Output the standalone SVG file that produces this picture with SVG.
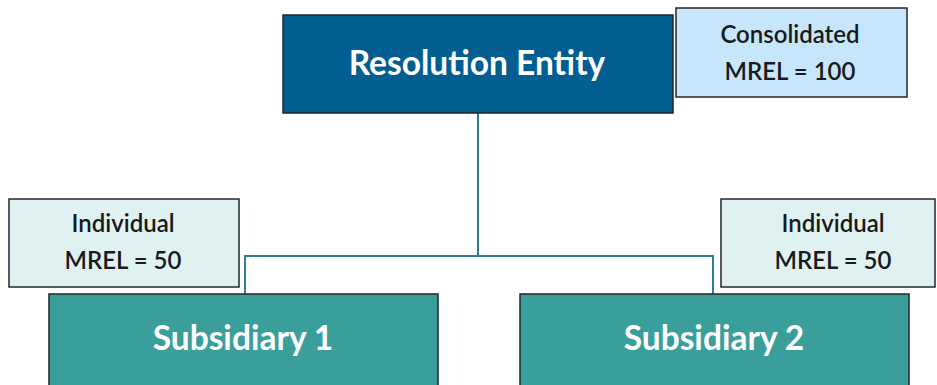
<svg xmlns="http://www.w3.org/2000/svg" width="937" height="385" viewBox="0 0 937 385">
<style>
.box{stroke:#262626;stroke-width:1.5}
.main{fill:#025d91}
.sub{fill:#3a9f9b}
.cons{fill:#c6e7fb}
.ind{fill:#dff2f1}
.big{font-family:Lato,"Liberation Sans",sans-serif;font-weight:bold;font-size:33.5px;fill:#ffffff;text-anchor:middle}
.small{font-family:Lato,"Liberation Sans",sans-serif;font-weight:600;font-size:24px;fill:#1a1a1a;text-anchor:middle}
.conn{fill:none;stroke:#2a7f97;stroke-width:2}
</style>
<rect width="937" height="385" fill="#ffffff"/>
<g id="connectors">
<path class="conn" d="M478 113 V256"/>
<path class="conn" d="M245 294 V256 H713 V294"/>
</g>
<g id="resolution-entity">
<rect class="box main" x="283" y="15" width="390" height="98"/>
<text class="big" x="477" y="75">Resolution Entity</text>
</g>
<g id="consolidated-mrel">
<rect class="box cons" x="676" y="8" width="231" height="89"/>
<text class="small" x="790" y="43">Consolidated</text>
<text class="small" x="790" y="80">MREL = 100</text>
</g>
<g id="individual-mrel-1">
<rect class="box ind" x="9" y="199" width="230" height="88"/>
<text class="small" x="123" y="232">Individual</text>
<text class="small" x="123" y="269">MREL = 50</text>
</g>
<g id="individual-mrel-2">
<rect class="box ind" x="721" y="199" width="214" height="88"/>
<text class="small" x="833" y="232">Individual</text>
<text class="small" x="833" y="269">MREL = 50</text>
</g>
<g id="subsidiary-1">
<rect class="box sub" x="49" y="294" width="389" height="100"/>
<text class="big" x="243" y="350">Subsidiary 1</text>
</g>
<g id="subsidiary-2">
<rect class="box sub" x="520" y="294" width="389" height="100"/>
<text class="big" x="714" y="350">Subsidiary 2</text>
</g>
</svg>
